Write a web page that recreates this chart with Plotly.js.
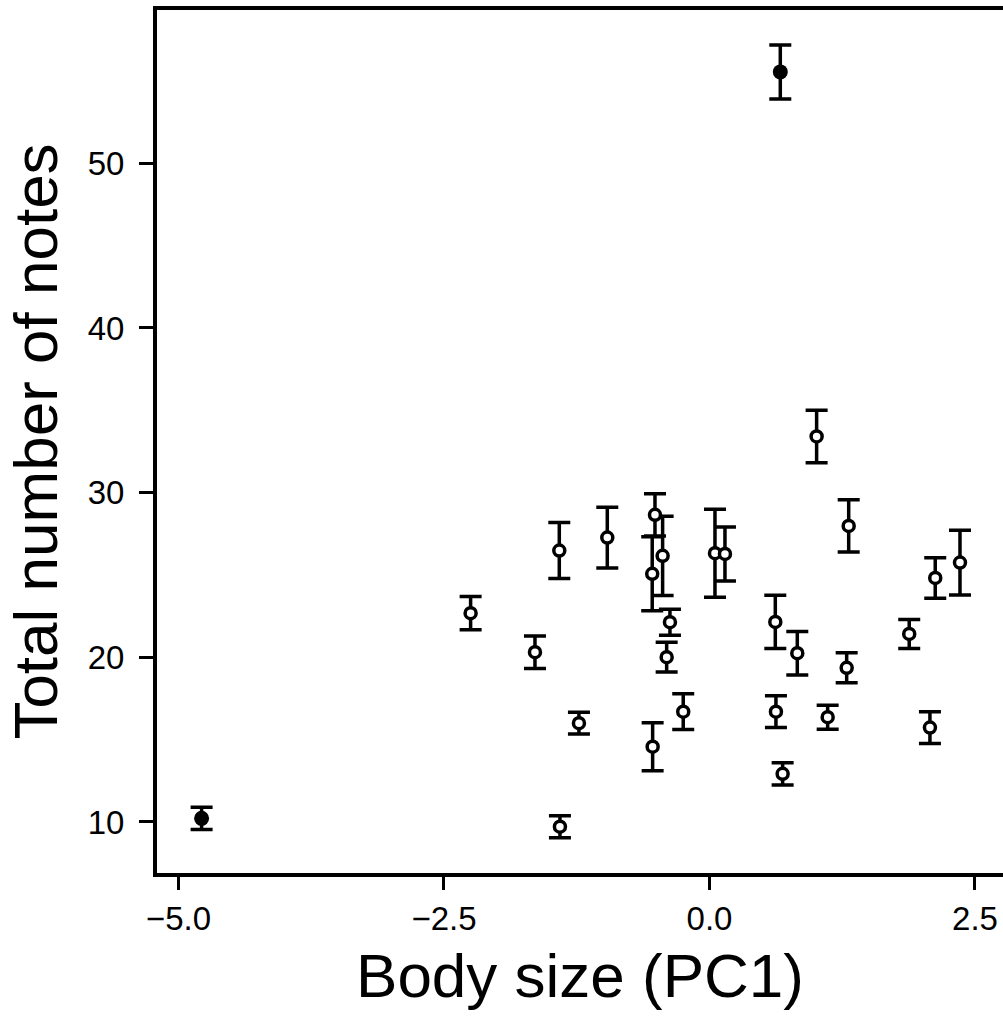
<!DOCTYPE html>
<html>
<head>
<meta charset="utf-8">
<script src="https://cdn.plot.ly/plotly-3.0.1.min.js"></script>
<style>html,body{margin:0;padding:0;background:#fff;}#chart{width:1003px;height:1017px;}</style>
</head>
<body>
<div id="chart"></div>
<script>
// Open symbols: body size (PC1), total number of notes, error (SE)
const bodySize = [-2.249, -1.643, -1.414, -0.962, -0.513, -0.539, -0.441, -0.372, -0.403, 0.052,
                  0.146, 1.009, 1.311, 2.359, 2.126, 1.881, 0.620, 0.827, 1.292, 0.626,
                  1.113, 2.076, 0.689, -1.229, -0.535, -0.247, -1.408];
const totalNotes = [22.68, 20.31, 26.48, 27.27, 28.65, 25.07, 26.16, 22.13, 20.01, 26.32,
                    26.28, 33.41, 27.98, 25.75, 24.82, 21.42, 22.15, 20.25, 19.36, 16.70,
                    16.36, 15.73, 12.92, 16.00, 14.57, 16.70, 9.71];
const notesErr = [1.01, 0.99, 1.70, 1.84, 1.28, 2.25, 2.41, 0.79, 0.91, 2.67,
                  1.64, 1.60, 1.59, 1.97, 1.23, 0.88, 1.62, 1.32, 0.91, 0.96,
                  0.73, 0.96, 0.67, 0.66, 1.46, 1.08, 0.67];
// Filled symbols
const bodySizeFilled = [-4.782, 0.667];
const totalNotesFilled = [10.22, 55.55];
const notesErrFilled = [0.68, 1.64];

const xTickVals = [-5.0, -2.5, 0.0, 2.5];
const yTickVals = [10, 20, 30, 40, 50];

const FONT = 'Liberation Sans, Arial, Helvetica, sans-serif';

const errStyle = {type: 'data', visible: true, color: '#000', thickness: 3.5, width: 11};

const traces = [
  {
    x: bodySize, y: totalNotes, type: 'scatter', mode: 'markers',
    error_y: Object.assign({array: notesErr}, errStyle),
    marker: {symbol: 'circle', size: 11, color: '#fff', line: {color: '#000', width: 3.5}},
    showlegend: false, hoverinfo: 'x+y'
  },
  {
    x: bodySizeFilled, y: totalNotesFilled, type: 'scatter', mode: 'markers',
    error_y: Object.assign({array: notesErrFilled}, errStyle),
    marker: {symbol: 'circle', size: 15, color: '#000', line: {color: '#000', width: 0}},
    showlegend: false, hoverinfo: 'x+y'
  }
];

const layout = {
  width: 1003, height: 1017,
  margin: {l: 157, r: 0, t: 10, b: 144, pad: 0},
  paper_bgcolor: '#fff', plot_bgcolor: '#fff',
  font: {family: FONT, color: '#000'},
  xaxis: {
    range: [-5.202, 2.764],
    tickvals: xTickVals, tickformat: '.1f',
    showgrid: false, zeroline: false,
    showline: true, linecolor: '#000', linewidth: 4, mirror: true,
    ticks: 'outside', ticklen: 13, tickwidth: 3, tickcolor: '#000',
    tickfont: {size: 33, family: FONT, color: '#000'},
    ticklabelstandoff: 0,
    title: {text: 'Body size (PC1)', font: {size: 62, family: FONT, color: '#000'}, standoff: 19},
    automargin: false
  },
  yaxis: {
    range: [6.90, 59.31],
    tickvals: yTickVals,
    showgrid: false, zeroline: false,
    showline: true, linecolor: '#000', linewidth: 4, mirror: false,
    ticks: 'outside', ticklen: 14, tickwidth: 3, tickcolor: '#000',
    tickfont: {size: 33, family: FONT, color: '#000'},
    ticklabelstandoff: 8,
    title: {text: 'Total number of notes', font: {size: 62, family: FONT, color: '#000'}, standoff: 11},
    automargin: false
  }
};

Plotly.newPlot('chart', traces, layout, {displayModeBar: false, staticPlot: true});
</script>
</body>
</html>
